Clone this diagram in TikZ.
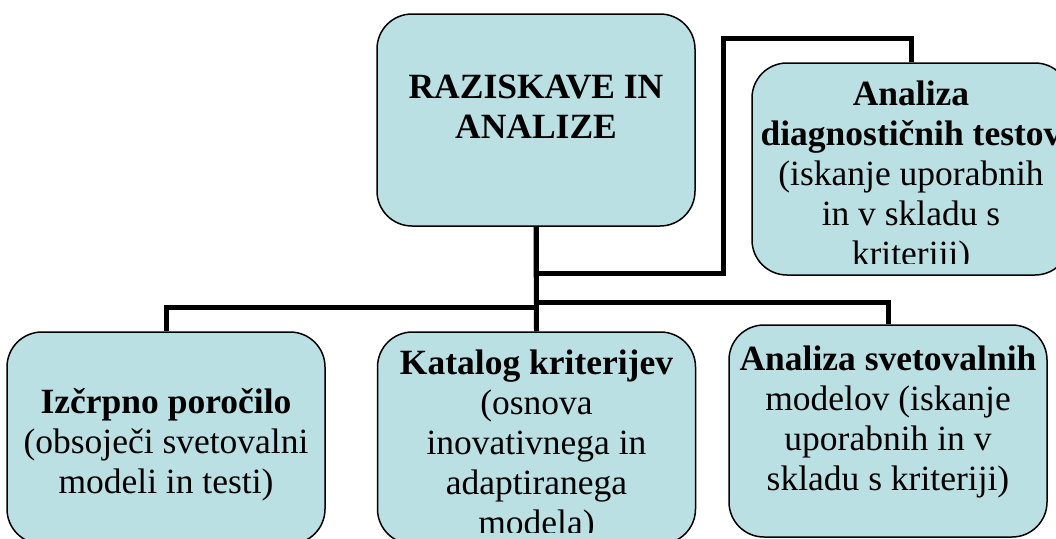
\documentclass[tikz,border=0pt]{standalone}
\usepackage{fontspec}
\setmainfont{Liberation Serif}
\definecolor{boxblue}{RGB}{187,224,227}
\tikzstyle{box} = [draw, line width=1.5pt, rounded corners=35pt, fill=boxblue, minimum width=318pt, minimum height=212pt, inner sep=0pt]
\tikzstyle{txt} = [align=center, anchor=base, inner sep=0pt, font=\fontsize{35.5}{40}\selectfont]
\tikzstyle{line} = [draw, line width=5pt]
\begin{document}
\begin{tikzpicture}[x=1pt,y=-1pt]
\useasboundingbox (0,0) rectangle (1056,538);
\clip (0,0) rectangle (1056,538);
\node (raz) at (536,120) [box] {};
\node (diag) at (911,169) [box] {};
\node (izc) at (166,438) [box] {};
\node (kat) at (536.5,438) [box] {};
\node (ana) at (888,431) [box] {};
\coordinate (busL) at (0,307);
\coordinate (busR) at (0,302);
\coordinate (sideY) at (0,273);
\coordinate (topY) at (0,38);
\coordinate (sideX) at (723,0);
% draw lines
\path [line] (raz.south) -- (raz.south |- busL) -| (izc.north);
\path [line] (raz.south) -- (kat.north);
\path [line] (raz.south) -- (raz.south |- busR) -| (ana.north);
\path [line] (raz.south) -- (raz.south |- sideY) -| (sideX |- topY) -| (diag.north);
% texts
\node (razT) at (536,138) [txt] {\textbf{RAZISKAVE IN}\\\textbf{ANALIZE}};
\begin{scope}
\clip (diag.north west) rectangle ([yshift=12pt]diag.south east);
\node (diagT) at (911,265) [txt] {\textbf{Analiza}\\\textbf{diagnostičnih testov}\\(iskanje uporabnih\\in v skladu s\\kriteriji)};
\end{scope}
\node (izcT) at (166,493) [txt] {\textbf{Izčrpno poročilo}\\(obsoječi svetovalni\\modeli in testi)};
\begin{scope}
\clip (kat.north west) rectangle ([yshift=12pt]kat.south east);
\node (katT) at (536.5,534) [txt] {\textbf{Katalog kriterijev}\\(osnova\\inovativnega in\\adaptiranega\\modela)};
\end{scope}
\node (anaT) at (888,490) [txt] {\textbf{Analiza svetovalnih}\\modelov (iskanje\\uporabnih in v\\skladu s kriteriji)};
\end{tikzpicture}
\end{document}
